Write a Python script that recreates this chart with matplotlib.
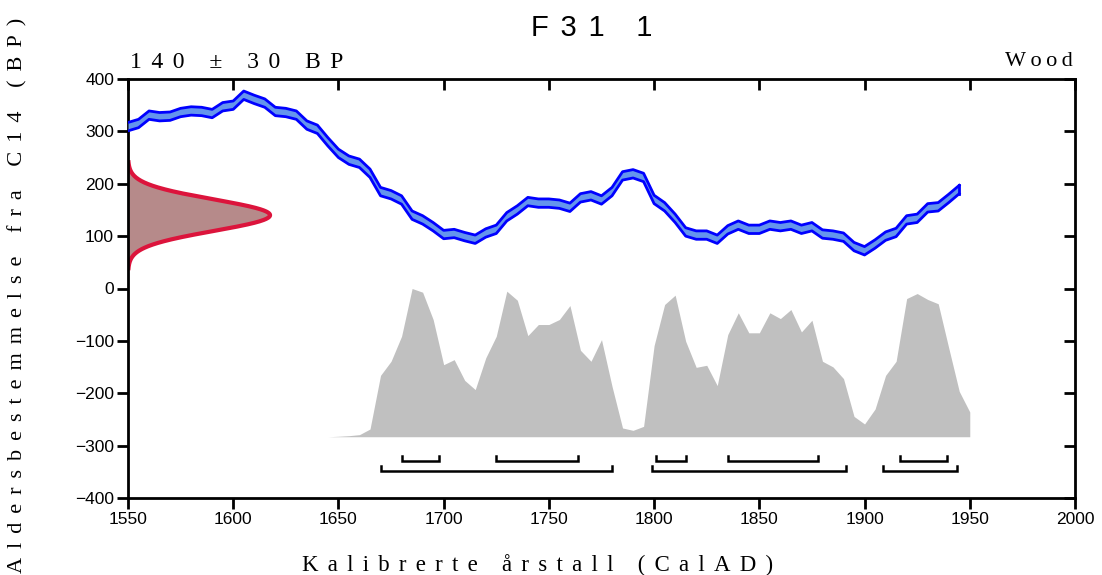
import numpy as np
import matplotlib.pyplot as plt

# calibration curve (IntCal-like), BP values every 5 years
curve_years = np.arange(1550, 1950, 5)
curve_bp = [309, 315, 331, 328, 329, 336, 339, 338, 334, 347,
            350, 369, 361, 354, 338, 336, 331, 312, 304, 280,
            258, 245, 239, 220, 185, 179, 169, 140, 131, 118,
            103, 105, 99, 94, 106, 113, 137, 150, 166, 163,
            163, 161, 155, 173, 177, 169, 185, 215, 219, 212,
            170, 156, 134, 108, 102, 102, 94, 112, 121, 113,
            113, 121, 118, 121, 113, 118, 104, 102, 98, 80,
            72, 85, 100, 107, 131, 134, 154, 156, 172, 189]
curve_err = 8

# calibrated probability (relative)
prob_years = np.arange(1640, 1955, 5)
prob = [0, 0, 0.003, 0.007, 0.014, 0.052, 0.414, 0.509, 0.678, 1.0,
        0.975, 0.791, 0.486, 0.520, 0.380, 0.318, 0.532, 0.678, 0.982, 0.921,
        0.682, 0.757, 0.757, 0.791, 0.885, 0.583, 0.509, 0.655, 0.340, 0.059,
        0.043, 0.070, 0.615, 0.892, 0.955, 0.644, 0.468, 0.482, 0.345, 0.689,
        0.836, 0.701, 0.701, 0.836, 0.797, 0.858, 0.707, 0.786, 0.509, 0.471,
        0.392, 0.137, 0.086, 0.187, 0.414, 0.509, 0.932, 0.966, 0.926, 0.897,
        0.599, 0.306, 0.167]

# measured date
c14_age = 140
c14_err = 30

# calibrated ranges
range_68 = [(1680, 1698), (1725, 1764), (1801, 1815), (1835, 1878), (1917, 1939)]
range_95 = [(1670, 1780), (1799, 1891), (1909, 1944)]

SERIF = ['Liberation Serif', 'DejaVu Serif']
SANS = ['Liberation Sans', 'DejaVu Sans']
THIN = '\u2009'


def spaced(s, gap=THIN * 2):
    return gap.join(s)


fig = plt.figure(figsize=(11.02, 5.75), dpi=100)
ax = fig.add_axes([128 / 1102, 1 - 498 / 575, (1075 - 128) / 1102, (498 - 79) / 575])

# probability distribution (grey)
base, top = -283, 0
ax.fill_between(prob_years, base, base + np.array(prob) * (top - base),
                color='#c0c0c0', lw=0, zorder=1)

# calibration curve band
cb = np.array(curve_bp)
ax.fill_between(curve_years, cb - curve_err, cb + curve_err, color='#6495ed', lw=0, zorder=3)
ax.plot(curve_years, cb - curve_err, color='#0000ff', lw=2, zorder=4)
ax.plot(curve_years, cb + curve_err, color='#0000ff', lw=2, zorder=4)
ax.plot([curve_years[-1]] * 2, [cb[-1] - curve_err, cb[-1] + curve_err], color='#0000ff', lw=2, zorder=4)

# C14 age as gaussian on y axis
v = np.linspace(c14_age - 3.5 * c14_err, c14_age + 3.5 * c14_err, 400)
w = np.exp(-0.5 * ((v - c14_age) / c14_err) ** 2) * 67.5
ax.fill_betweenx(v, 1550, 1550 + w, color='#b68a8a', lw=0, zorder=2)
ax.plot(1550 + w, v, color='#dc143c', lw=3, zorder=2, solid_capstyle='butt')

# range brackets
for rows, y in ((range_68, -329), (range_95, -348)):
    for s, e in rows:
        ax.plot([s, s, e, e], [y + 10, y, y, y + 10], color='black', lw=1.8,
                solid_joinstyle='miter')

ax.set_xlim(1550, 2000)
ax.set_ylim(-400, 400)
ax.set_xticks(np.arange(1550, 2001, 50))
ax.set_yticks(np.arange(-400, 401, 100))
for sp in ax.spines.values():
    sp.set_linewidth(2)
ax.tick_params(direction='out', length=8, width=2, labelsize=12.5, pad=2)
for lab in ax.get_xticklabels() + ax.get_yticklabels():
    lab.set_family(SANS)

topx = ax.secondary_xaxis('top')
topx.set_xticks(np.arange(1550, 2001, 50))
topx.tick_params(direction='in', length=8, width=2, labeltop=False)
righty = ax.secondary_yaxis('right')
righty.set_yticks(np.arange(-400, 401, 100))
righty.tick_params(direction='in', length=8, width=2, labelright=False)

fig.text(592 / 1102, 1 - 28 / 575, spaced('F31 1', THIN * 2), family=SANS, fontsize=21,
         ha='center', va='center')
fig.text(130 / 1102, 1 - 62 / 575, spaced('140 ± 30 BP'), family=SERIF, fontsize=17,
         ha='left', va='center')
fig.text(1073 / 1102, 1 - 62 / 575, spaced('Wood', THIN), family=SERIF, fontsize=16,
         ha='right', va='center')
fig.text(538 / 1102, 1 - 565 / 575, spaced('Kalibrerte årstall (CalAD)'), family=SERIF,
         fontsize=16.5, ha='center', va='center')
fig.text(18 / 1102, 1 - 295 / 575, spaced('Aldersbestemmelse fra C14 (BP)'), family=SERIF,
         fontsize=16, ha='center', va='center', rotation=90)

fig.savefig('out.png', dpi=100)
